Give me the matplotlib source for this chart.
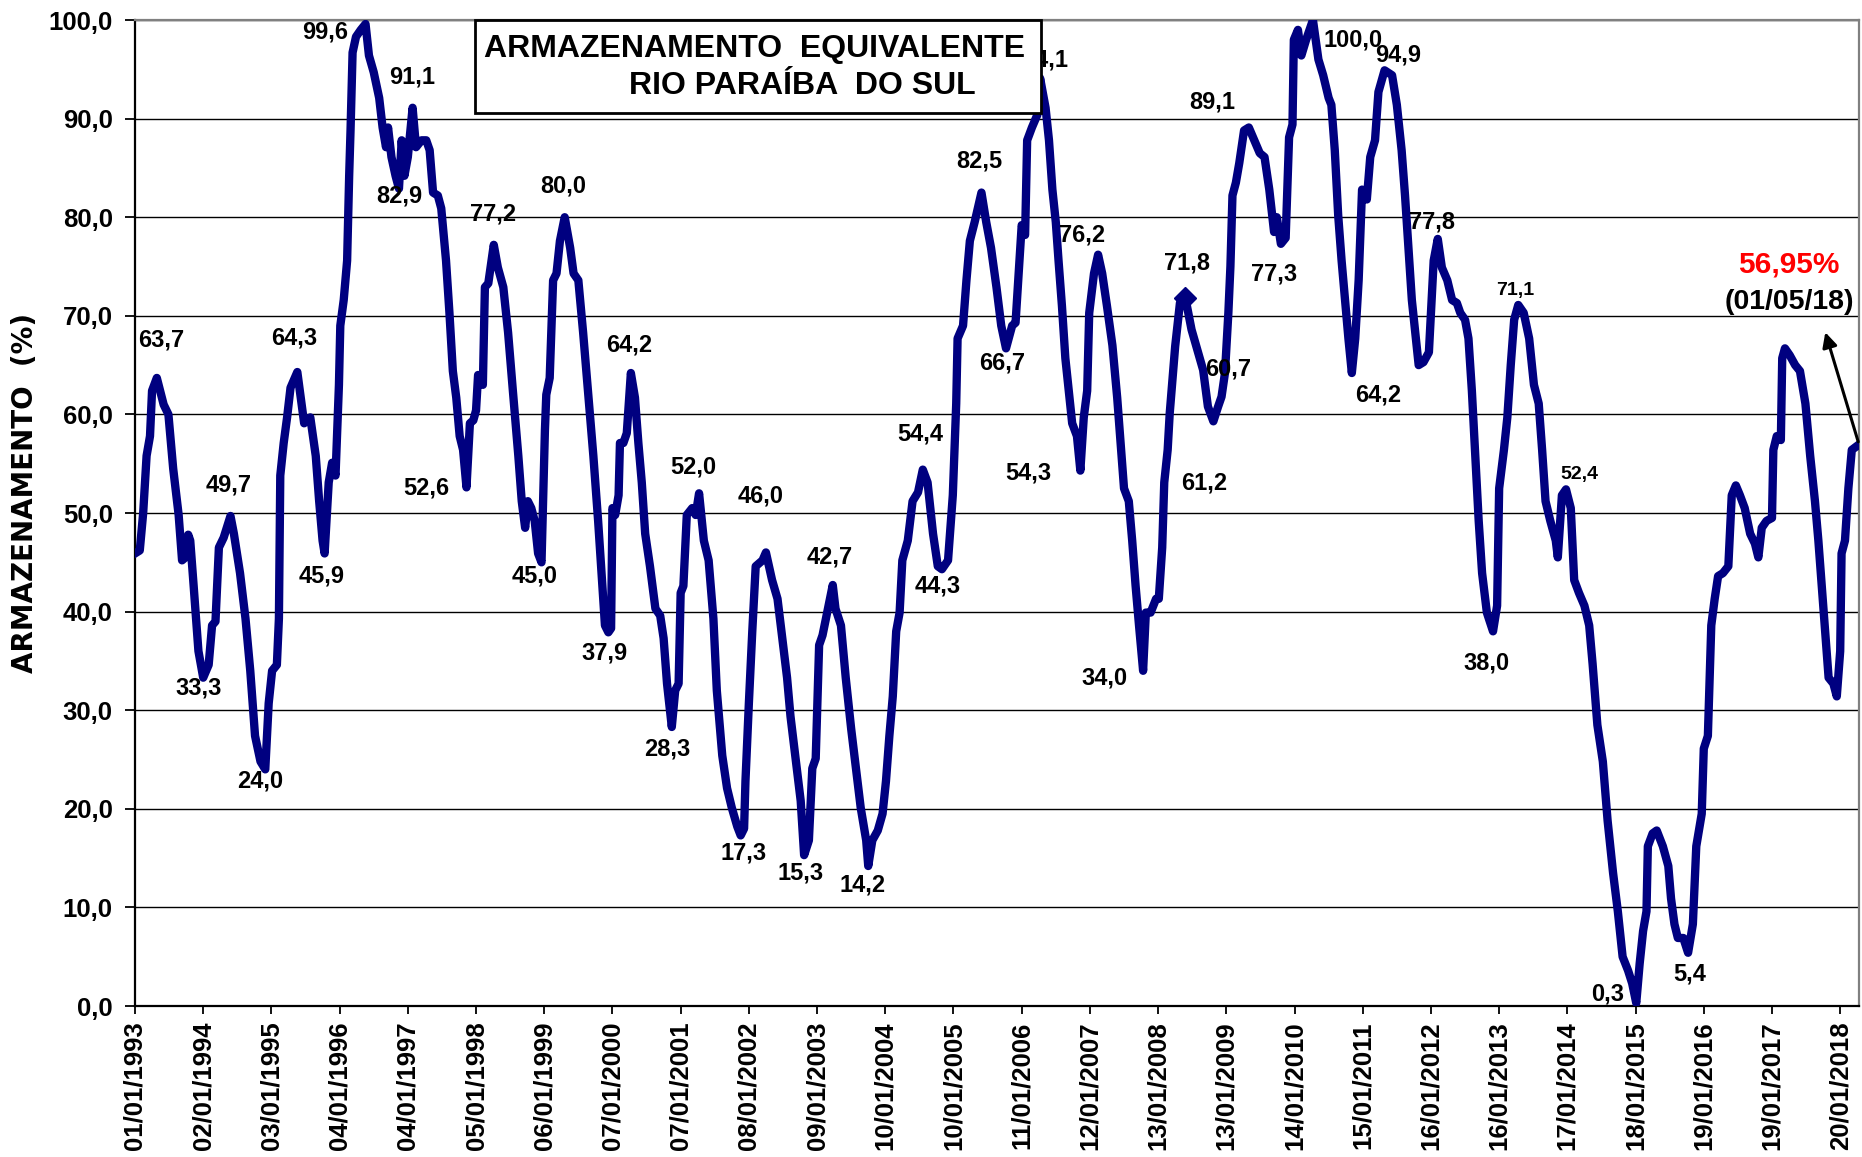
import numpy as np
import pandas as pd
import matplotlib
matplotlib.use("Agg")
import matplotlib.pyplot as plt
from matplotlib.patches import Rectangle

# time in "chart years" (one tick step = 366 days from 01/01/1993)
t_year = [
    1993.00, 1993.07, 1993.12, 1993.17, 1993.22, 1993.25, 1993.32, 1993.42, 1993.49, 1993.56,
    1993.64, 1993.69, 1993.74, 1993.78, 1993.81, 1993.86, 1993.93, 1994.00, 1994.08, 1994.13,
    1994.18, 1994.23, 1994.30, 1994.40, 1994.45, 1994.54, 1994.62, 1994.69, 1994.76, 1994.84,
    1994.91, 1994.96, 1995.01, 1995.08, 1995.11, 1995.13, 1995.18, 1995.23, 1995.28, 1995.38,
    1995.48, 1995.57, 1995.65, 1995.70, 1995.75, 1995.78, 1995.84, 1995.89, 1995.94, 1995.99,
    1996.01, 1996.06, 1996.11, 1996.14, 1996.16, 1996.19, 1996.24, 1996.31, 1996.38, 1996.43,
    1996.50, 1996.58, 1996.63, 1996.68, 1996.71, 1996.76, 1996.82, 1996.87, 1996.91, 1996.95,
    1997.00, 1997.07, 1997.12, 1997.20, 1997.27, 1997.32, 1997.37, 1997.44, 1997.49, 1997.56,
    1997.61, 1997.66, 1997.71, 1997.76, 1997.81, 1997.86, 1997.91, 1997.96, 1998.00, 1998.03,
    1998.10, 1998.13, 1998.18, 1998.26, 1998.32, 1998.40, 1998.47, 1998.54, 1998.62, 1998.67,
    1998.72, 1998.76, 1998.81, 1998.86, 1998.91, 1998.96, 1999.01, 1999.03, 1999.08, 1999.13,
    1999.18, 1999.23, 1999.30, 1999.38, 1999.43, 1999.50, 1999.57, 1999.65, 1999.72, 1999.79,
    1999.84, 1999.89, 1999.94, 1999.98, 2000.00, 2000.04, 2000.09, 2000.11, 2000.16, 2000.21,
    2000.27, 2000.33, 2000.38, 2000.43, 2000.48, 2000.55, 2000.63, 2000.70, 2000.75, 2000.80,
    2000.87, 2000.92, 2000.97, 2001.00, 2001.04, 2001.09, 2001.17, 2001.22, 2001.27, 2001.34,
    2001.41, 2001.48, 2001.53, 2001.61, 2001.68, 2001.75, 2001.83, 2001.88, 2001.93, 2001.95,
    2002.00, 2002.05, 2002.10, 2002.20, 2002.25, 2002.34, 2002.42, 2002.49, 2002.56, 2002.61,
    2002.69, 2002.76, 2002.81, 2002.88, 2002.93, 2002.98, 2003.03, 2003.08, 2003.13, 2003.23,
    2003.27, 2003.35, 2003.42, 2003.50, 2003.57, 2003.64, 2003.72, 2003.75, 2003.81, 2003.89,
    2003.96, 2004.01, 2004.06, 2004.11, 2004.16, 2004.21, 2004.25, 2004.33, 2004.40, 2004.48,
    2004.55, 2004.62, 2004.70, 2004.77, 2004.83, 2004.92, 2004.99, 2005.04, 2005.06, 2005.14,
    2005.19, 2005.24, 2005.31, 2005.41, 2005.48, 2005.55, 2005.63, 2005.70, 2005.77, 2005.86,
    2005.91, 2005.96, 2006.00, 2006.05, 2006.08, 2006.15, 2006.23, 2006.27, 2006.35, 2006.40,
    2006.45, 2006.50, 2006.54, 2006.59, 2006.64, 2006.69, 2006.74, 2006.81, 2006.86, 2006.91,
    2006.96, 2006.99, 2007.06, 2007.12, 2007.18, 2007.25, 2007.33, 2007.40, 2007.45, 2007.50,
    2007.57, 2007.62, 2007.67, 2007.72, 2007.78, 2007.82, 2007.89, 2007.97, 2008.01, 2008.06,
    2008.09, 2008.14, 2008.17, 2008.25, 2008.32, 2008.40, 2008.49, 2008.59, 2008.66, 2008.73,
    2008.81, 2008.88, 2008.93, 2008.98, 2009.03, 2009.06, 2009.09, 2009.14, 2009.19, 2009.26,
    2009.33, 2009.41, 2009.49, 2009.56, 2009.63, 2009.70, 2009.74, 2009.80, 2009.87, 2009.92,
    2009.97, 2009.99, 2010.05, 2010.10, 2010.17, 2010.27, 2010.35, 2010.42, 2010.50, 2010.54,
    2010.59, 2010.64, 2010.69, 2010.74, 2010.79, 2010.84, 2010.89, 2010.94, 2010.99, 2011.06,
    2011.11, 2011.18, 2011.23, 2011.32, 2011.43, 2011.50, 2011.57, 2011.62, 2011.67, 2011.72,
    2011.77, 2011.82, 2011.89, 2011.97, 2012.01, 2012.04, 2012.10, 2012.16, 2012.24, 2012.31,
    2012.38, 2012.43, 2012.50, 2012.55, 2012.60, 2012.65, 2012.70, 2012.75, 2012.82, 2012.91,
    2012.97, 2013.00, 2013.07, 2013.12, 2013.17, 2013.22, 2013.28, 2013.36, 2013.44, 2013.51,
    2013.58, 2013.63, 2013.68, 2013.75, 2013.83, 2013.86, 2013.92, 2013.98, 2014.05, 2014.10,
    2014.17, 2014.25, 2014.32, 2014.37, 2014.44, 2014.52, 2014.59, 2014.67, 2014.74, 2014.81,
    2014.89, 2014.95, 2015.01, 2015.06, 2015.11, 2015.16, 2015.18, 2015.25, 2015.31, 2015.40,
    2015.48, 2015.52, 2015.57, 2015.62, 2015.70, 2015.77, 2015.84, 2015.89, 2015.97, 2016.00,
    2016.06, 2016.11, 2016.16, 2016.21, 2016.28, 2016.36, 2016.41, 2016.47, 2016.53, 2016.60,
    2016.68, 2016.75, 2016.80, 2016.85, 2016.92, 2017.00, 2017.02, 2017.07, 2017.13, 2017.15,
    2017.19, 2017.26, 2017.34, 2017.41, 2017.49, 2017.56, 2017.63, 2017.68, 2017.73, 2017.78,
    2017.83, 2017.90, 2017.95, 2018.00, 2018.02, 2018.07, 2018.12, 2018.17, 2018.276,
]

# armazenamento equivalente (%)
storage = [
    45.9, 46.2, 50.0, 55.8, 57.8, 62.4, 63.7, 61.0, 60.0, 54.5,
    49.8, 45.2, 45.5, 47.8, 47.2, 42.6, 36.0, 33.3, 34.6, 38.6,
    39.0, 46.5, 47.5, 49.7, 47.9, 43.9, 39.3, 34.0, 27.4, 24.8,
    24.0, 30.7, 34.0, 34.6, 39.3, 53.8, 57.1, 59.7, 62.7, 64.3,
    59.1, 59.7, 55.8, 51.2, 47.2, 45.9, 53.1, 55.1, 53.8, 63.0,
    69.0, 71.6, 75.6, 84.2, 88.8, 96.7, 98.3, 99.0, 99.6, 96.4,
    94.7, 92.1, 89.1, 87.1, 89.1, 86.1, 84.2, 82.9, 87.8, 84.2,
    86.1, 91.1, 87.1, 87.8, 87.8, 86.8, 82.5, 82.2, 80.9, 75.6,
    70.3, 64.4, 61.7, 57.8, 56.4, 52.6, 59.1, 59.4, 60.4, 64.0,
    63.0, 72.9, 73.3, 77.2, 74.9, 72.9, 68.3, 62.4, 55.8, 51.2,
    48.5, 51.2, 50.5, 49.2, 45.9, 45.0, 58.4, 62.0, 63.7, 73.6,
    74.3, 77.6, 80.0, 76.9, 74.3, 73.6, 68.3, 61.7, 55.8, 49.2,
    43.9, 38.6, 37.9, 38.3, 50.5, 49.8, 51.8, 57.1, 57.1, 58.1,
    64.2, 61.7, 57.1, 53.1, 47.9, 44.6, 40.3, 39.6, 37.3, 32.7,
    28.3, 32.0, 32.7, 41.9, 42.6, 49.8, 50.5, 49.8, 52.0, 47.2,
    45.2, 39.3, 32.0, 25.4, 22.1, 20.1, 18.2, 17.3, 18.0, 22.8,
    30.7, 38.0, 44.6, 45.2, 46.0, 43.2, 41.3, 37.3, 33.3, 29.4,
    24.8, 20.8, 15.3, 16.8, 24.1, 25.1, 36.6, 37.6, 39.3, 42.7,
    40.3, 38.6, 33.3, 28.1, 24.1, 20.1, 16.8, 14.2, 16.8, 17.8,
    19.5, 22.8, 27.4, 31.4, 38.0, 39.9, 45.2, 47.2, 51.2, 52.1,
    54.4, 53.1, 47.9, 44.6, 44.3, 45.2, 51.8, 61.1, 67.7, 69.0,
    73.6, 77.6, 79.5, 82.5, 79.5, 76.9, 72.9, 69.0, 66.7, 69.0,
    69.3, 74.9, 79.2, 78.2, 87.8, 89.1, 90.4, 94.1, 91.1, 87.8,
    82.8, 79.5, 75.6, 71.0, 65.7, 62.4, 59.1, 57.8, 54.3, 59.7,
    62.4, 70.3, 74.3, 76.2, 74.3, 71.0, 67.0, 61.7, 57.1, 52.5,
    51.2, 47.2, 42.6, 38.6, 34.0, 39.9, 39.9, 41.3, 41.3, 46.5,
    53.1, 56.4, 60.1, 66.9, 71.3, 71.8, 68.6, 66.2, 64.5, 60.8,
    59.3, 60.8, 61.8, 64.2, 70.3, 75.0, 82.2, 83.5, 85.5, 88.8,
    89.1, 87.8, 86.5, 86.1, 82.8, 78.5, 80.0, 77.3, 77.9, 88.1,
    89.4, 98.0, 99.0, 96.4, 98.0, 100.0, 96.0, 94.4, 92.1, 91.4,
    86.8, 80.2, 75.6, 71.6, 67.7, 64.2, 67.7, 73.6, 82.8, 81.8,
    86.1, 87.8, 92.7, 94.9, 94.4, 91.4, 86.8, 82.2, 76.9, 71.6,
    68.3, 65.0, 65.3, 66.3, 71.6, 75.6, 77.8, 74.9, 73.6, 71.6,
    71.3, 70.3, 69.6, 67.7, 62.4, 55.8, 49.2, 43.9, 39.9, 38.0,
    40.6, 52.5, 56.4, 59.7, 65.0, 69.6, 71.1, 70.3, 67.7, 63.0,
    61.1, 56.4, 51.2, 49.2, 47.2, 45.5, 51.8, 52.4, 50.5, 43.2,
    41.9, 40.6, 38.6, 34.7, 28.5, 24.8, 18.8, 13.5, 9.6, 5.0,
    3.6, 2.3, 0.3, 4.3, 7.6, 9.6, 16.2, 17.5, 17.8, 16.2,
    14.2, 10.9, 8.3, 6.9, 6.9, 5.4, 8.3, 16.2, 19.5, 26.1,
    27.4, 38.6, 41.3, 43.6, 43.9, 44.6, 51.8, 52.8, 51.8, 50.5,
    47.9, 46.9, 45.5, 48.5, 49.2, 49.5, 56.4, 57.8, 57.4, 65.7,
    66.7, 66.0, 65.0, 64.4, 61.1, 55.8, 51.2, 47.2, 42.6, 38.0,
    33.3, 32.7, 31.4, 36.0, 45.9, 47.2, 52.5, 56.4, 56.95,
]

tick_labels = [
    "01/01/1993", "02/01/1994", "03/01/1995", "04/01/1996", "04/01/1997",
    "05/01/1998", "06/01/1999", "07/01/2000", "07/01/2001", "08/01/2002",
    "09/01/2003", "10/01/2004", "10/01/2005", "11/01/2006", "12/01/2007",
    "13/01/2008", "13/01/2009", "14/01/2010", "15/01/2011", "16/01/2012",
    "16/01/2013", "17/01/2014", "18/01/2015", "19/01/2016", "19/01/2017",
    "20/01/2018",
]

# valores anotados nos picos e vales
peak_text = [
    "63,7", "33,3", "49,7", "24,0", "64,3", "45,9", "99,6", "82,9", "91,1", "52,6",
    "77,2", "45,0", "80,0", "37,9", "64,2", "28,3", "52,0", "17,3", "46,0", "15,3",
    "42,7", "14,2", "54,4", "44,3", "82,5", "66,7", "54,3", "94,1", "76,2", "34,0",
    "71,8", "61,2", "60,7", "89,1", "77,3", "100,0", "64,2", "94,9", "77,8", "38,0",
    "71,1", "52,4", "0,3", "5,4",
]
# where each label sits (chart years, %)
peak_pos = [
    (1993.39, 67.5), (1993.93, 32.3), (1994.37, 52.8), (1994.84, 22.8), (1995.33, 67.7),
    (1995.74, 43.6), (1995.79, 98.8), (1996.87, 82.2), (1997.06, 94.2), (1997.27, 52.5),
    (1998.25, 80.3), (1998.86, 43.6), (1999.28, 83.2), (1999.88, 35.8), (2000.24, 67.0),
    (2000.80, 26.1), (2001.19, 54.7), (2001.92, 15.5), (2002.17, 51.7), (2002.76, 13.5),
    (2003.18, 45.5), (2003.67, 12.3), (2004.51, 58.0), (2004.77, 42.6), (2005.38, 85.7),
    (2005.72, 65.2), (2006.10, 54.1), (2006.35, 95.9), (2006.89, 78.2), (2007.21, 33.3),
    (2008.42, 75.4), (2008.68, 53.0), (2009.02, 64.6), (2008.80, 91.7), (2009.70, 74.2),
    (2010.86, 98.0), (2011.22, 62.0), (2011.52, 96.5), (2012.01, 79.5), (2012.82, 34.8),
    (2013.24, 72.6), (2014.18, 53.9), (2014.59, 1.2), (2015.79, 3.2),
]
small_labels = {"71,1", "52,4"}

last_value = "56,95%"
last_date = "(01/05/18)"

start = pd.Timestamp("1993-01-01")


def to_date(t):
    return start + pd.to_timedelta((np.asarray(t) - 1993) * 366, unit="D")


dates = to_date(t_year)
ticks = pd.to_datetime(tick_labels, dayfirst=True)

fig = plt.figure(figsize=(18.62, 11.57), dpi=100)
ax = fig.add_axes([0.0725, 0.1305, 0.9259, 0.8522])

navy = "#000080"
ax.plot(dates, storage, color=navy, lw=6, solid_joinstyle="round", zorder=3)
ax.plot(to_date([2008.40]), [71.8], marker="D", color=navy, markersize=11, zorder=3)

ax.set_ylim(0, 100)
ax.set_xlim(dates[0], dates[-1])
ax.set_yticks(np.arange(0, 101, 10))
ax.set_yticklabels([f"{v:.1f}".replace(".", ",") for v in np.arange(0, 101, 10)],
                   family="Liberation Sans", fontweight="bold", fontsize=18.5)
ax.set_xticks(ticks)
ax.set_xticklabels(tick_labels, rotation=90, family="Liberation Sans",
                   fontweight="bold", fontsize=18.5)
ax.tick_params(axis="y", length=7, width=1.3, pad=9)
ax.tick_params(axis="x", length=6, width=1.3, pad=5)

ax.yaxis.grid(True, color="black", lw=1.0)
ax.set_axisbelow(True)
for side in ["left", "bottom"]:
    ax.spines[side].set_color("black")
    ax.spines[side].set_linewidth(1.6)
for side in ["top", "right"]:
    ax.spines[side].set_color("#808080")
    ax.spines[side].set_linewidth(1.6)

for txt, (tx, ty) in zip(peak_text, peak_pos):
    ax.text(to_date([tx])[0], ty, txt, ha="center", va="center",
            family="Liberation Sans", fontweight="bold",
            fontsize=14 if txt in small_labels else 17, zorder=4)

# valor atual com seta
ax.text(to_date([2017.25])[0], 75.2, last_value, color="red", ha="center", va="center",
        family="Liberation Sans", fontweight="bold", fontsize=21.5)
ax.text(to_date([2017.25])[0], 71.4, last_date, color="black", ha="center", va="center",
        family="Liberation Sans", fontweight="bold", fontsize=20.5)
ax.annotate("", xy=(to_date([2017.77])[0], 68.6), xytext=(dates[-1], storage[-1]),
            arrowprops=dict(arrowstyle="-|>", color="black", lw=2.2, mutation_scale=22),
            annotation_clip=False)

fig.text(0.0134, 0.574, "ARMAZENAMENTO  (%)", rotation=90, ha="center", va="center",
         family="DejaVu Sans", fontweight="bold", fontsize=20)

# caixa do título
fig.patches.append(Rectangle((0.2551, 0.9023), 0.304, 0.0804, transform=fig.transFigure,
                             facecolor="white", edgecolor="black", lw=2, zorder=5))
fig.text(0.4055, 0.958, "ARMAZENAMENTO  EQUIVALENTE", ha="center", va="center",
         family="Liberation Sans", fontweight="bold", fontsize=23, zorder=6)
fig.text(0.4307, 0.926, "RIO PARAÍBA  DO SUL", ha="center", va="center",
         family="Liberation Sans", fontweight="bold", fontsize=23, zorder=6)

fig.savefig("out.png", dpi=100)
